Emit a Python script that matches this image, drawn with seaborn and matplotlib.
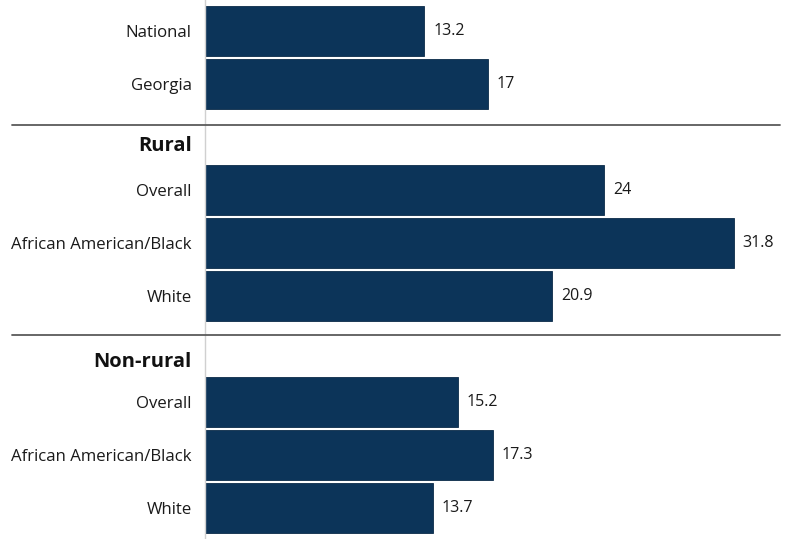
import pandas as pd
import matplotlib.pyplot as plt
import seaborn as sns

# Chart values
labels = ['National', 'Georgia',
          'Overall', 'African American/Black', 'White',
          'Overall', 'African American/Black', 'White']
values = [13.2, 17, 24, 31.8, 20.9, 15.2, 17.3, 13.7]
positions = [0, 1, 3, 4, 5, 7, 8, 9]
headers = ['Rural', 'Non-rural']
header_pos = [2.18, 6.25]
separator_pos = [1.78, 5.74]

df = pd.DataFrame({'label': labels, 'value': values, 'pos': positions})

sns.set_style('white')
plt.rcParams['font.family'] = ['Open Sans', 'DejaVu Sans']

fig = plt.figure(figsize=(8, 5.39), dpi=100)
ax = fig.add_axes([205 / 800, 0, 595 / 800, 1])

sns.barplot(data=df, x='value', y='pos', orient='h', native_scale=True,
            color='#0c3459', saturation=1, width=0.94, ax=ax,
            edgecolor='#0a2a48', linewidth=0.6)

ax.set_xlim(0, 595 / 16.62)
ax.set_ylim(9.59, -0.58)
ax.set_yticks(positions)
ax.set_yticklabels(labels, fontsize=12.1, color='#1a1a1a')
ax.tick_params(axis='y', length=0, pad=9.5)
ax.set_xticks([])
ax.set_xlabel('')
ax.set_ylabel('')
for s in ['top', 'right', 'bottom']:
    ax.spines[s].set_visible(False)
ax.spines['left'].set_color('#d0d0d0')
ax.spines['left'].set_linewidth(1)

# value labels
for p, v in zip(positions, values):
    ax.text(v + 0.55, p, f'{v:g}', va='center', ha='left',
            fontsize=11.5, color='#1a1a1a')

# group headers
for h, p in zip(headers, header_pos):
    ax.text(-13 / 16.62, p, h, va='center', ha='right', fontsize=14.5,
            fontweight='bold', color='#111111', clip_on=False)

# separators spanning from the label area to the right edge
for p in separator_pos:
    ax.plot([-193 / 16.62, 575 / 16.62], [p, p], color='#5a5a5a',
            linewidth=1.3, clip_on=False, zorder=3)

fig.savefig('out.png', dpi=100)
